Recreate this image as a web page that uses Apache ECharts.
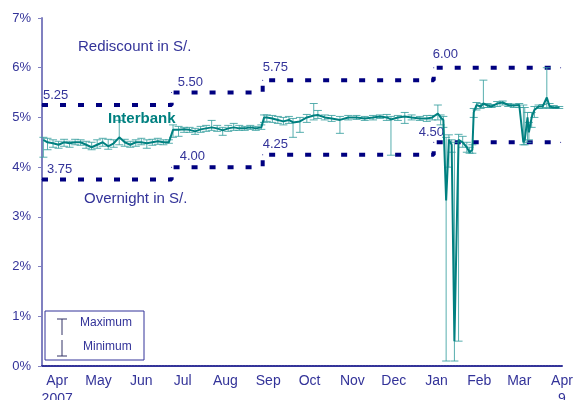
<!DOCTYPE html>
<html>
<head>
<meta charset="utf-8">
<script src="https://cdn.jsdelivr.net/npm/echarts@6/dist/echarts.min.js"></script>
<style>
  html, body { margin: 0; padding: 0; background: #fff; }
  #chart { width: 573px; height: 400px; }
</style>
</head>
<body>
<div id="chart"></div>
<script>
// x values are days counted from 1 Apr 2007
var monthLabels = ['Apr\n2007', 'May', 'Jun', 'Jul', 'Aug', 'Sep', 'Oct', 'Nov', 'Dec', 'Jan', 'Feb', 'Mar', 'Apr\n9'];
var monthDays = [14, 44, 75, 105, 136, 167, 197, 228, 258, 289, 320, 349, 380];
var yTicks = [0, 1, 2, 3, 4, 5, 6, 7];

// policy corridor (step lines)
var rediscountDays = [3, 97, 163, 287, 379];
var rediscountRate = [5.25, 5.50, 5.75, 6.00, 6.00];
var overnightDays = [3, 97, 163, 287, 379];
var overnightRate = [3.75, 4.00, 4.25, 4.50, 4.50];

// interbank rate: average, daily maximum, daily minimum
var interbankDays = [4, 7, 11, 15, 19, 23, 27, 31, 35, 39, 43, 47, 51, 55, 59, 63, 67, 71, 75, 79, 83, 87, 91, 95,
  98, 102, 106, 110, 114, 118, 122, 126, 130, 134, 138, 142, 146, 150, 154, 158, 162,
  164, 166, 170, 174, 178, 182, 185, 190, 195, 200, 203, 208, 213, 219, 225, 231, 237, 243, 248, 253, 256, 261, 266, 271, 277, 282, 286,
  290, 292, 294, 296, 298, 300, 302, 305, 308, 311, 313, 315, 316, 318, 321, 323, 326, 329,
  333, 337, 341, 345, 349, 352, 353, 355, 356, 358, 360, 363, 366, 369, 371, 374, 378];
var interbankAvg = [4.55, 4.50, 4.48, 4.45, 4.50, 4.48, 4.50, 4.50, 4.45, 4.40, 4.45, 4.50, 4.42, 4.48, 4.60, 4.50, 4.45, 4.50, 4.50, 4.48, 4.50, 4.52, 4.50, 4.50,
  4.75, 4.75, 4.76, 4.75, 4.72, 4.76, 4.78, 4.80, 4.78, 4.74, 4.78, 4.80, 4.78, 4.78, 4.80, 4.78, 4.80,
  5.00, 5.00, 4.98, 4.95, 4.92, 4.95, 4.90, 4.92, 5.00, 5.04, 5.05, 5.00, 4.98, 4.95, 5.00, 5.00, 4.98, 5.00, 5.02, 5.00, 4.96, 5.00, 5.02, 5.00, 4.98, 4.98, 5.00,
  5.08, 5.00, 4.95, 3.33, 4.55, 4.45, 0.50, 4.55, 4.50, 4.40, 4.30, 4.35, 5.10, 5.25, 5.22, 5.28, 5.24, 5.22,
  5.28, 5.30, 5.25, 5.24, 5.25, 4.50, 4.55, 5.00, 4.70, 5.00, 5.15, 5.22, 5.22, 5.40, 5.22, 5.20, 5.20];
var interbankMax = [4.60, 4.58, 4.55, 4.52, 4.56, 4.52, 4.56, 4.55, 4.52, 4.50, 4.55, 4.58, 4.56, 4.55, 4.94, 4.56, 4.52, 4.55, 4.58, 4.55, 4.56, 4.58, 4.55, 4.55,
  4.85, 4.82, 4.80, 4.80, 4.78, 4.82, 4.84, 4.94, 4.84, 4.80, 4.84, 4.88, 4.84, 4.82, 4.84, 4.82, 4.85,
  5.05, 5.05, 5.04, 5.02, 5.00, 5.02, 4.98, 5.00, 5.06, 5.28, 5.14, 5.05, 5.04, 5.02, 5.04, 5.04, 5.02, 5.04, 5.05, 5.06, 5.02, 5.04, 5.10, 5.05, 5.02, 5.04, 5.04,
  5.25, 5.05, 5.02, 4.60, 4.65, 4.55, 4.50, 4.66, 4.62, 4.50, 4.40, 4.45, 5.18, 5.30, 5.28, 5.75, 5.28, 5.26,
  5.32, 5.33, 5.28, 5.27, 5.28, 5.25, 5.20, 5.10, 4.90, 5.10, 5.22, 5.25, 5.26, 6.00, 5.28, 5.24, 5.22];
var interbankMin = [4.20, 4.35, 4.40, 4.38, 4.42, 4.40, 4.45, 4.44, 4.38, 4.35, 4.38, 4.42, 4.36, 4.40, 4.45, 4.42, 4.40, 4.42, 4.45, 4.38, 4.44, 4.46, 4.45, 4.48,
  4.60, 4.62, 4.70, 4.70, 4.66, 4.70, 4.72, 4.74, 4.72, 4.64, 4.72, 4.74, 4.74, 4.74, 4.76, 4.74, 4.76,
  4.90, 4.92, 4.90, 4.88, 4.85, 4.88, 4.60, 4.70, 4.90, 4.95, 4.98, 4.95, 4.92, 4.68, 4.95, 4.96, 4.94, 4.95, 4.98, 4.94, 4.24, 4.94, 4.88, 4.95, 4.94, 4.92, 4.95,
  4.95, 4.85, 4.80, 0.10, 4.00, 4.30, 0.10, 0.50, 4.40, 4.30, 4.28, 4.28, 5.00, 5.15, 5.18, 5.20, 5.20, 5.20,
  5.22, 5.25, 5.22, 5.20, 5.20, 4.45, 4.45, 4.50, 4.55, 4.80, 5.00, 5.18, 5.18, 5.20, 5.18, 5.18, 5.18];

// label nudges for the rate numbers (style only)
var rediscountLabelShift = [[1, -2.5], [6, -3], [0, -5.5], [-1, -6.5]];
var overnightLabelShift = [[5, -3], [8, -3.5], [0, -3.5], [-15, -3]];

var navy = '#000080';
var textBlue = '#333399';
var teal = '#008080';
var font = 'Liberation Sans, Arial, sans-serif';

function stepData(days, rates, shifts) {
  return days.map(function (d, i) {
    var item = { value: [d, rates[i]] };
    if (i < shifts.length) {
      item.label = {
        show: true,
        position: 'top',
        align: 'left',
        distance: 0,
        offset: shifts[i],
        formatter: rates[i].toFixed(2),
        color: textBlue,
        fontSize: 13,
        fontFamily: font
      };
    } else {
      item.label = { show: false };
    }
    return item;
  });
}

function stepSeries(name, days, rates, shifts) {
  return {
    name: name,
    type: 'line',
    step: 'end',
    symbol: 'circle',
    symbolSize: 1,
    showSymbol: true,
    itemStyle: { color: navy },
    lineStyle: { color: navy, width: 4, type: [6, 12] },
    z: 2,
    silent: true,
    data: stepData(days, rates, shifts)
  };
}

var chart = echarts.init(document.getElementById('chart'));

chart.setOption({
  backgroundColor: '#fff',
  animation: false,
  grid: { left: 42, right: 11, top: 18, bottom: 34, outerBoundsMode: 'none', containLabel: false },
  xAxis: {
    type: 'value',
    min: 3,
    max: 380,
    splitLine: { show: false },
    axisLine: { lineStyle: { color: textBlue, width: 2, type: [2, 1] } },
    axisTick: { show: false },
    axisLabel: {
      customValues: monthDays,
      showMinLabel: true,
      showMaxLabel: true,
      margin: 6,
      color: textBlue,
      fontSize: 14,
      lineHeight: 18,
      fontFamily: font,
      formatter: function (v) {
        var i = monthDays.indexOf(v);
        return i >= 0 ? monthLabels[i] : '';
      }
    }
  },
  yAxis: {
    type: 'value',
    min: 0,
    max: 7,
    interval: 1,
    splitLine: { show: false },
    axisLine: { show: true, lineStyle: { color: '#8080c0', width: 2 } },
    axisTick: { show: true, length: 4, lineStyle: { color: '#8080c0' } },
    axisLabel: {
      customValues: yTicks,
      margin: 11,
      color: textBlue,
      fontSize: 13,
      fontFamily: font,
      formatter: '{value}%'
    }
  },
  series: [
    stepSeries('Rediscount in S/.', rediscountDays, rediscountRate, rediscountLabelShift),
    stepSeries('Overnight in S/.', overnightDays, overnightRate, overnightLabelShift),
    {
      name: 'Max / Min',
      type: 'custom',
      z: 3,
      silent: true,
      encode: { x: 0, y: [1, 2] },
      renderItem: function (params, api) {
        var top = api.coord([api.value(0), api.value(1)]);
        var bot = api.coord([api.value(0), api.value(2)]);
        var w = 4;
        var st = { stroke: '#3aa0a0', lineWidth: 1, opacity: 0.85 };
        return {
          type: 'group',
          children: [
            { type: 'line', shape: { x1: top[0], y1: top[1], x2: bot[0], y2: bot[1] }, style: st },
            { type: 'line', shape: { x1: top[0] - w, y1: top[1], x2: top[0] + w, y2: top[1] }, style: st },
            { type: 'line', shape: { x1: bot[0] - w, y1: bot[1], x2: bot[0] + w, y2: bot[1] }, style: st }
          ]
        };
      },
      data: interbankDays.map(function (d, i) { return [d, interbankMax[i], interbankMin[i]]; })
    },
    {
      name: 'Interbank',
      type: 'line',
      z: 4,
      silent: true,
      showSymbol: false,
      lineStyle: { color: teal, width: 2 },
      itemStyle: { color: teal },
      data: interbankDays.map(function (d, i) { return [d, interbankAvg[i]]; })
    }
  ],
  graphic: [
    { type: 'text', x: 78, y: 47, style: { text: 'Rediscount in S/.', fill: textBlue, font: '15px ' + font, verticalAlign: 'middle' } },
    { type: 'text', x: 84, y: 199, style: { text: 'Overnight in S/.', fill: textBlue, font: '15px ' + font, verticalAlign: 'middle' } },
    { type: 'text', x: 108, y: 119, z: 10, style: { text: 'Interbank', fill: teal, font: 'bold 15px ' + font, verticalAlign: 'middle' } },
    {
      type: 'group',
      x: 45,
      y: 311,
      z: 10,
      children: [
        { type: 'rect', shape: { x: 0, y: 0, width: 99, height: 49 }, style: { fill: '#fff', stroke: textBlue, lineWidth: 1 } },
        { type: 'line', shape: { x1: 17, y1: 8, x2: 17, y2: 24 }, style: { stroke: '#333366', lineWidth: 1 } },
        { type: 'line', shape: { x1: 12, y1: 8, x2: 22, y2: 8 }, style: { stroke: '#333366', lineWidth: 1 } },
        { type: 'text', x: 35, y: 12, style: { text: 'Maximum', fill: textBlue, font: '12px ' + font, verticalAlign: 'middle' } },
        { type: 'line', shape: { x1: 17, y1: 29, x2: 17, y2: 45 }, style: { stroke: '#333366', lineWidth: 1 } },
        { type: 'line', shape: { x1: 12, y1: 45, x2: 22, y2: 45 }, style: { stroke: '#333366', lineWidth: 1 } },
        { type: 'text', x: 38, y: 36, style: { text: 'Minimum', fill: textBlue, font: '12px ' + font, verticalAlign: 'middle' } }
      ]
    }
  ]
});
</script>
</body>
</html>
